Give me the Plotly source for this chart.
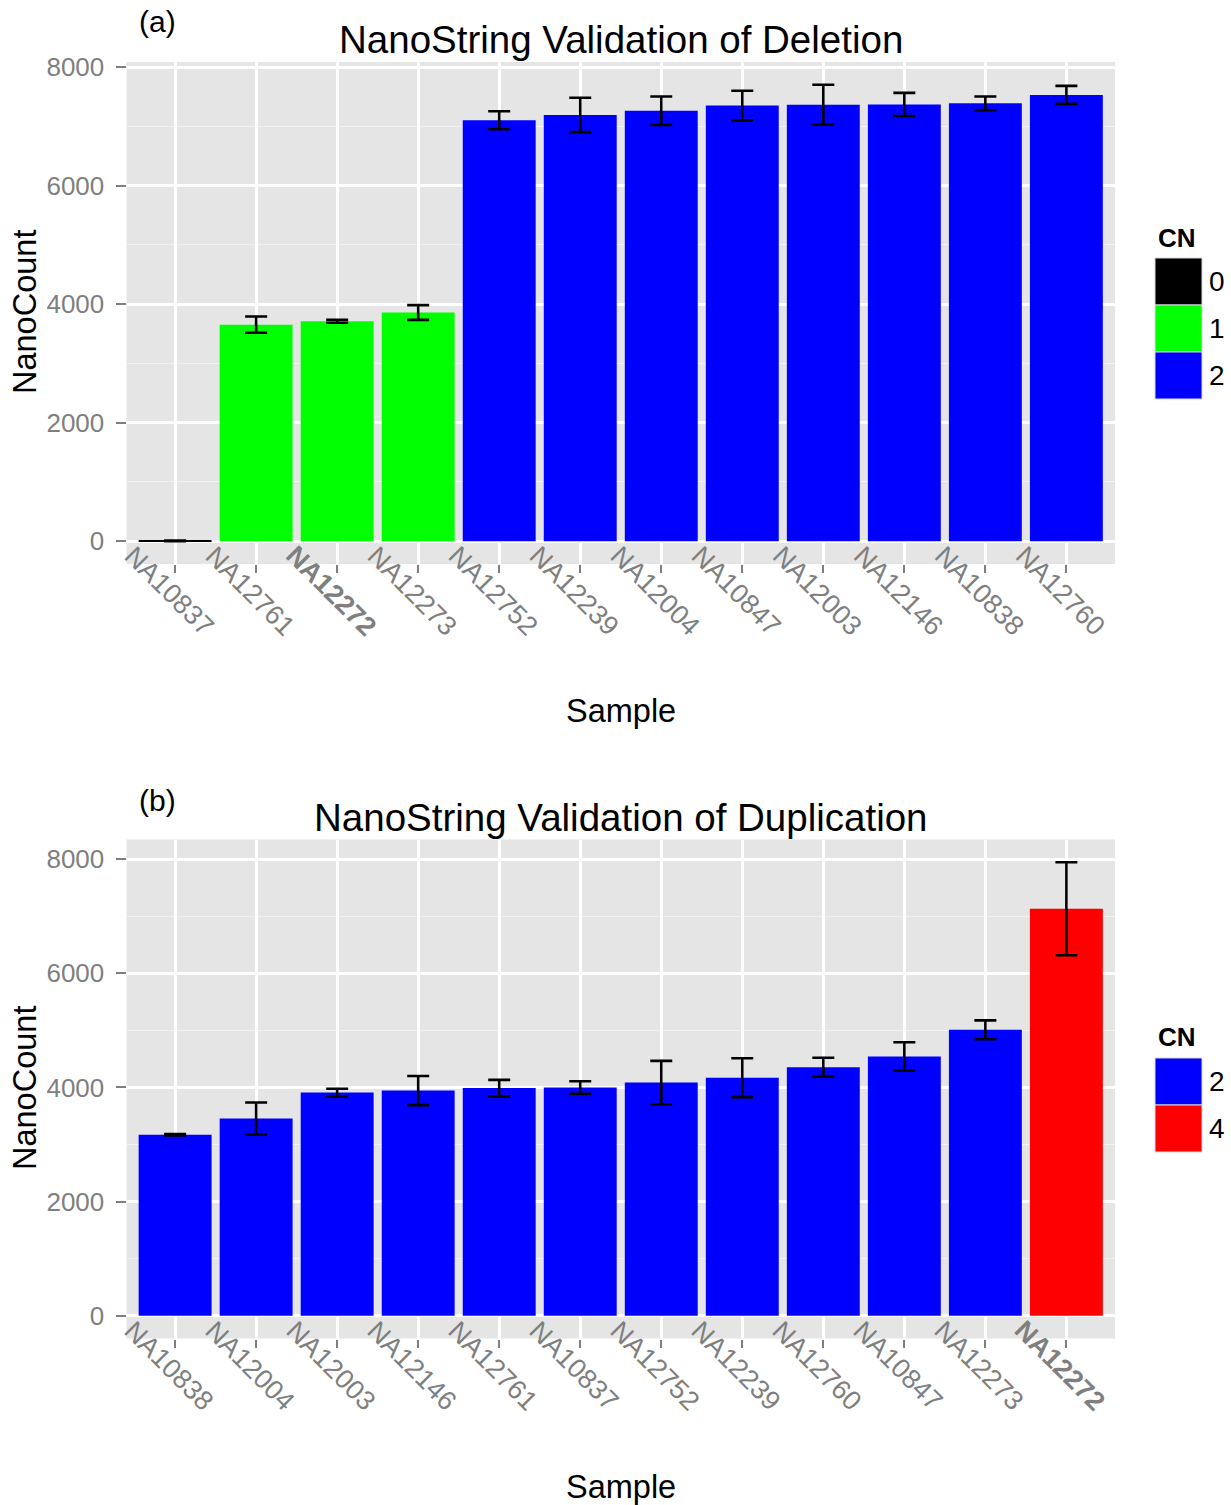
import plotly.graph_objects as go

W = 1231
H = 1505
TOP_OFF = 10              # blank band observed above the drawn figure
SPAN = H - TOP_OFF        # effective vertical span used for positioning

# ---------------- data ----------------
del_samples = ["NA10837", "NA12761", "NA12272", "NA12273", "NA12752", "NA12239",
               "NA12004", "NA10847", "NA12003", "NA12146", "NA10838", "NA12760"]
del_counts = [5, 3655, 3713, 3860, 7105, 7195, 7266, 7353, 7368, 7372, 7390, 7533]
del_err = [6, 138, 25, 125, 152, 290, 240, 250, 335, 195, 115, 152]
del_cn = [0, 1, 1, 1, 2, 2, 2, 2, 2, 2, 2, 2]

dup_samples = ["NA10838", "NA12004", "NA12003", "NA12146", "NA12761", "NA10837",
               "NA12752", "NA12239", "NA12760", "NA10847", "NA12273", "NA12272"]
dup_counts = [3173, 3455, 3910, 3945, 3988, 3998, 4085, 4170, 4355, 4542, 5010, 7130]
dup_err = [12, 280, 68, 255, 145, 110, 380, 340, 165, 250, 165, 815]
dup_cn = [2, 2, 2, 2, 2, 2, 2, 2, 2, 2, 2, 4]

y_ticks = [0, 2000, 4000, 6000, 8000]
highlight = "NA12272"
cn_colors = {0: "#000000", 1: "#00FF00", 2: "#0000FF", 4: "#FF0000"}

FONT = "Liberation Sans, Arial, Helvetica, sans-serif"
GREY = "#7F7F7F"
PANEL = "#E5E5E5"


def px2x(px):
    return px / W


def px2y(py):
    return 1 - (py - TOP_OFF) / SPAN


def note(x, y, text, size, color="black", xanchor="center", yanchor="middle", angle=0,
         xref="paper", xshift=0):
    return dict(x=x, y=y, xref=xref, yref="paper", text=text, showarrow=False,
                xanchor=xanchor, yanchor=yanchor, textangle=angle, xshift=xshift,
                font=dict(size=size, color=color, family=FONT))


panels = [
    dict(samples=del_samples, counts=del_counts, err=del_err, cn=del_cn,
         top=62, bottom=564, title="NanoString Validation of Deletion", tag="(a)",
         title_y=40, tag_y=21, ylab_y=312, xlab_y=711, legend_top=258, cn_y=238),
    dict(samples=dup_samples, counts=dup_counts, err=dup_err, cn=dup_cn,
         top=839.5, bottom=1338.5, title="NanoString Validation of Duplication", tag="(b)",
         title_y=817, tag_y=800, ylab_y=1088, xlab_y=1487, legend_top=1058, cn_y=1037),
]

fig = go.Figure()
annotations = []
shapes = []
x_dom = [px2x(126.5), px2x(1115)]

for k, p in enumerate(panels):
    sfx = "" if k == 0 else str(k + 1)
    xa, ya = "x" + sfx, "y" + sfx
    fig.add_trace(go.Bar(
        x=p["samples"], y=p["counts"],
        marker=dict(color=[cn_colors[c] for c in p["cn"]], line=dict(width=0)),
        error_y=dict(type="data", array=p["err"], color="black", thickness=2.6, width=11),
        xaxis=xa, yaxis=ya, showlegend=False,
    ))
    ymax = max(v + e for v, e in zip(p["counts"], p["err"]))
    yrange = [-0.05 * ymax, 1.05 * ymax]
    axis_x = dict(domain=x_dom, anchor=ya, type="category", range=[-0.6, len(p["samples"]) - 0.4],
                  showgrid=True, gridcolor="white", gridwidth=2.5, ticks="outside", ticklen=8,
                  tickwidth=2, tickcolor=GREY, showticklabels=False, zeroline=False,
                  showline=False, fixedrange=True)
    axis_y = dict(domain=[px2y(p["bottom"]), px2y(p["top"])], anchor=xa, range=yrange,
                  tickvals=y_ticks, showgrid=True, gridcolor="white", gridwidth=2.5,
                  minor=dict(dtick=1000, tick0=0, showgrid=True, gridcolor="#F2F2F2", gridwidth=1.2),
                  ticks="outside", ticklen=10, tickwidth=2, tickcolor=GREY,
                  ticklabelstandoff=6,
                  tickfont=dict(size=26, color=GREY, family=FONT),
                  zeroline=False, showline=False, fixedrange=True)
    fig.update_layout({"xaxis" + sfx: axis_x, "yaxis" + sfx: axis_y})

    # rotated sample labels
    for s in p["samples"]:
        annotations.append(note(s, px2y(p["bottom"] + 27),
                                ("<b>%s</b>" % s) if s == highlight else s, 27, GREY,
                                angle=45, xref=xa, xshift=-6))

    # titles
    annotations.append(note(px2x(621), px2y(p["title_y"]), p["title"], 38.5))
    annotations.append(note(px2x(137), px2y(p["tag_y"]), p["tag"], 30, xanchor="left"))
    annotations.append(note(px2x(621), px2y(p["xlab_y"]), "Sample", 32.5))
    annotations.append(note(px2x(25), px2y(p["ylab_y"]), "NanoCount", 32.5, angle=-90))

    # legend (CN)
    levels = sorted(set(p["cn"]))
    annotations.append(note(px2x(1156), px2y(p["cn_y"]), "<b>CN</b>", 26, xanchor="left"))
    key = 47
    for i, lv in enumerate(levels):
        y0 = p["legend_top"] + i * key
        shapes.append(dict(type="rect", xref="paper", yref="paper",
                           x0=px2x(1155), x1=px2x(1155 + key), y0=px2y(y0 + key), y1=px2y(y0),
                           fillcolor=cn_colors[lv], line=dict(color="#D9D9D9", width=1)))
        annotations.append(note(px2x(1207), px2y(y0 + key / 2), str(lv), 28, xanchor="left"))

fig.update_layout(
    width=W, height=H, margin=dict(l=0, r=0, t=0, b=0),
    paper_bgcolor="white", plot_bgcolor=PANEL, bargap=0.1,
    font=dict(family=FONT), showlegend=False,
    annotations=annotations, shapes=shapes,
)

post = "document.body.style.margin='0px';"
fig.write_html("out.html", config={"displayModeBar": False}, post_script=post)
